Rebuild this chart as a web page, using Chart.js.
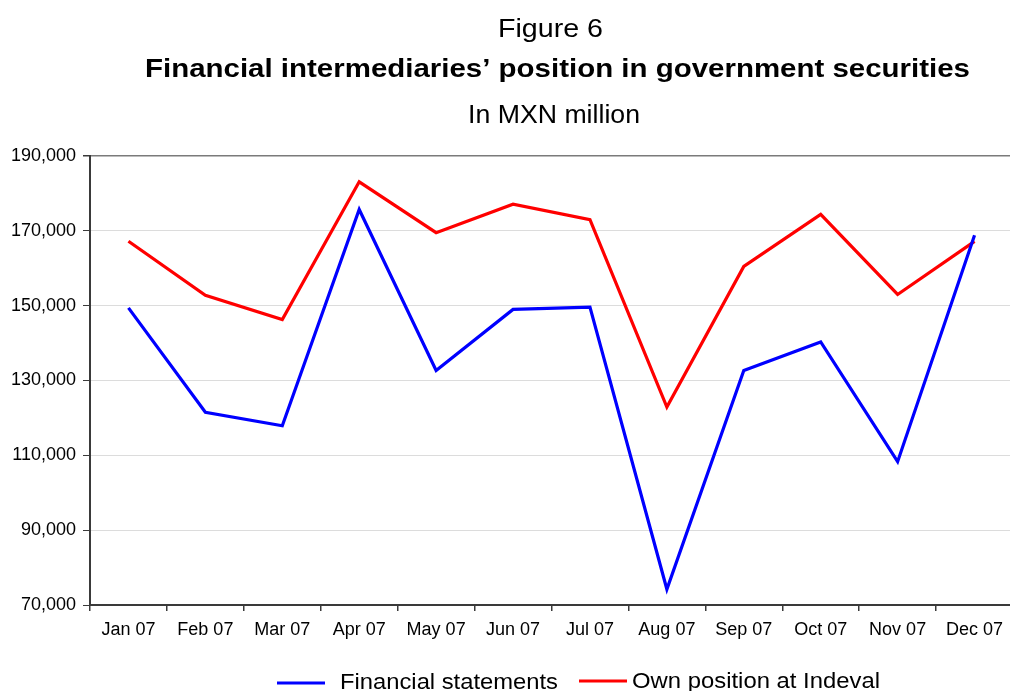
<!DOCTYPE html>
<html>
<head>
<meta charset="utf-8">
<script src="https://cdn.jsdelivr.net/npm/chart.js@4/dist/chart.umd.min.js"></script>
<style>
  html, body { margin: 0; padding: 0; background: #fff; overflow: hidden; }
  #wrap { width: 1010px; height: 691px; overflow: hidden; position: relative; }
  #chart { display: block; }
</style>
</head>
<body>
<div id="wrap"><canvas id="chart" width="1020" height="691"></canvas></div>
<script>
// data
const categories = ['Jan 07', 'Feb 07', 'Mar 07', 'Apr 07', 'May 07', 'Jun 07',
                    'Jul 07', 'Aug 07', 'Sep 07', 'Oct 07', 'Nov 07', 'Dec 07'];
const financialStatements = [149400, 121500, 117900, 175700, 132700, 149000,
                             149600, 74200, 132700, 140300, 108300, 168800];
const ownPositionIndeval = [167200, 152800, 146300, 183100, 169500, 177100,
                            173000, 122900, 160500, 174400, 153000, 167200];
const yTicks = [70000, 90000, 110000, 130000, 150000, 170000, 190000];

const FONT = "'Liberation Sans', Arial, Helvetica, sans-serif";
const AXIS = '#3a3a3a';

// draws text left-aligned at x, stretched to a target width
function fitText(ctx, text, x, baseline, font, width) {
  ctx.save();
  ctx.font = font;
  ctx.fillStyle = '#000';
  ctx.textAlign = 'left';
  ctx.textBaseline = 'alphabetic';
  const w = ctx.measureText(text).width;
  ctx.translate(x, baseline);
  ctx.scale(width / w, 1);
  ctx.fillText(text, 0, 0);
  ctx.restore();
}

const titles = [
  {text: 'Figure 6', x: 498, y: 37, font: '25px ' + FONT, w: 105},
  {text: 'Financial intermediaries\u2019 position in government securities', x: 145, y: 77, font: 'bold 26px ' + FONT, w: 825},
  {text: 'In MXN million', x: 468, y: 123, font: '26px ' + FONT, w: 172}
];

const legendSpots = [
  {x1: 277, x2: 325, ly: 683, tx: 340, ty: 689, w: 218},
  {x1: 579, x2: 627, ly: 681, tx: 632, ty: 688, w: 248}
];

const decorPlugin = {
  id: 'decor',
  afterDraw(chart) {
    const ctx = chart.ctx;
    titles.forEach(t => fitText(ctx, t.text, t.x, t.y, t.font, t.w));
    chart.data.datasets.forEach((ds, i) => {
      const s = legendSpots[i];
      ctx.save();
      ctx.strokeStyle = ds.borderColor;
      ctx.lineWidth = 3;
      ctx.beginPath();
      ctx.moveTo(s.x1, s.ly);
      ctx.lineTo(s.x2, s.ly);
      ctx.stroke();
      ctx.restore();
      fitText(ctx, ds.label, s.tx, s.ty, '22px ' + FONT, s.w);
    });
  }
};

const ctx = document.getElementById('chart').getContext('2d');
new Chart(ctx, {
  type: 'line',
  data: {
    labels: categories,
    datasets: [
      {
        label: 'Financial statements',
        data: financialStatements,
        borderColor: '#0000ff',
        backgroundColor: '#0000ff',
        borderWidth: 3.2,
        pointRadius: 0,
        tension: 0
      },
      {
        label: 'Own position at Indeval',
        data: ownPositionIndeval,
        borderColor: '#ff0000',
        backgroundColor: '#ff0000',
        borderWidth: 3.2,
        pointRadius: 0,
        tension: 0
      }
    ]
  },
  options: {
    responsive: false,
    animation: false,
    devicePixelRatio: 1,
    layout: { padding: { top: 156, right: 7, left: 0, bottom: 0 } },
    plugins: {
      legend: { display: false },
      title: { display: false },
      tooltip: { enabled: false }
    },
    scales: {
      x: {
        type: 'category',
        offset: true,
        grid: {
          offset: true,
          drawOnChartArea: false,
          drawTicks: true,
          tickLength: 6,
          tickColor: AXIS,
          lineWidth: 1.5
        },
        border: { color: AXIS, width: 2 },
        ticks: {
          color: '#000',
          font: { family: FONT, size: 18 },
          padding: 8,
          autoSkip: false,
          maxRotation: 0
        },
        afterFit(scale) { scale.height = 86; }
      },
      y: {
        min: 70000,
        max: 190000,
        afterBuildTicks(scale) { scale.ticks = yTicks.map(v => ({value: v})); },
        grid: {
          color: c => (c.tick && c.tick.value === 190000) ? '#7a7a7a' : '#dcdcdc',
          lineWidth: c => (c.tick && c.tick.value === 190000) ? 1.5 : 1,
          drawTicks: true,
          tickLength: 7,
          tickColor: AXIS
        },
        border: { color: AXIS, width: 2 },
        ticks: {
          color: '#000',
          font: { family: FONT, size: 18 },
          padding: 7,
          callback: v => v.toLocaleString('en-US')
        },
        afterFit(scale) { scale.width = 90; }
      }
    }
  },
  plugins: [decorPlugin]
});
</script>
</body>
</html>
